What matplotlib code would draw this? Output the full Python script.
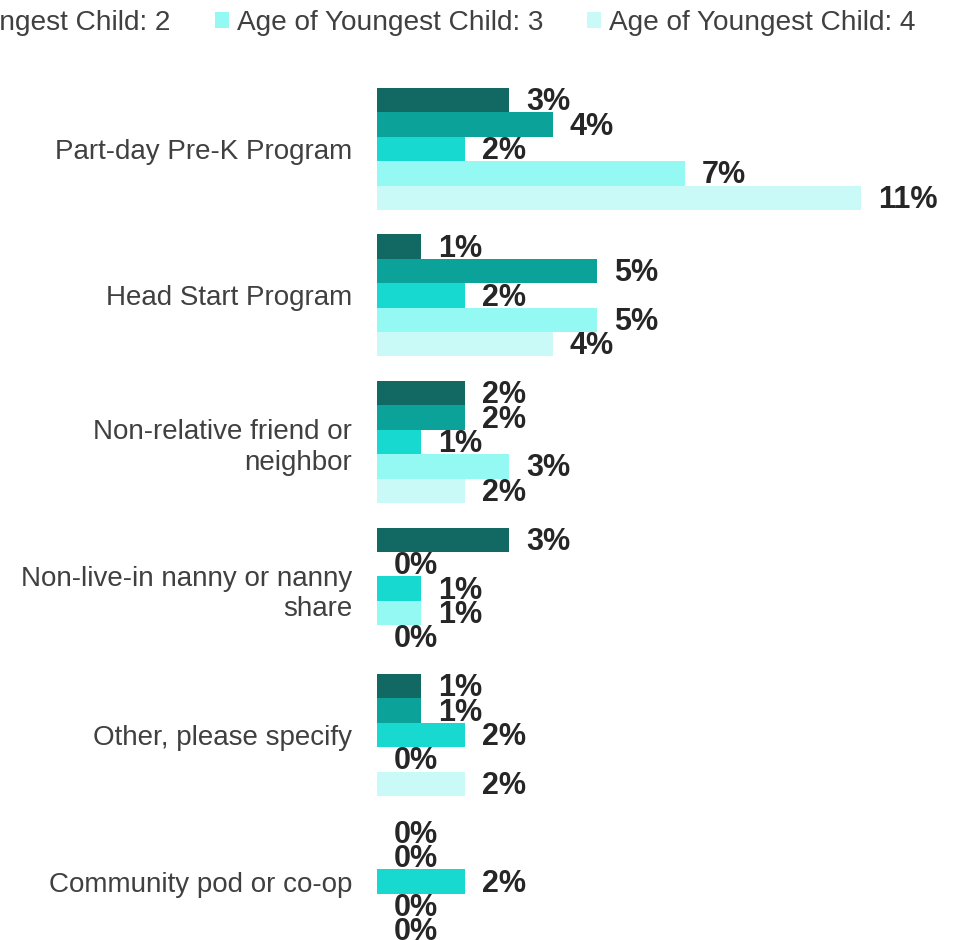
import matplotlib.pyplot as plt
import numpy as np

plt.rcParams['font.family'] = ['Liberation Sans', 'DejaVu Sans']

categories = [
    "Part-day Pre-K Program",
    "Head Start Program",
    "Non-relative friend or\nneighbor",
    "Non-live-in nanny or nanny\nshare",
    "Other, please specify",
    "Community pod or co-op",
]
series_names = [
    "Age of Youngest Child: 0",
    "Age of Youngest Child: 1",
    "Age of Youngest Child: 2",
    "Age of Youngest Child: 3",
    "Age of Youngest Child: 4",
]
# percent values per series for each category
age0 = [3, 1, 2, 3, 1, 0]
age1 = [4, 5, 2, 0, 1, 0]
age2 = [2, 2, 1, 1, 2, 2]
age3 = [7, 5, 3, 1, 0, 0]
age4 = [11, 4, 2, 0, 2, 0]
values = [age0, age1, age2, age3, age4]
colors = ["#126863", "#0BA29A", "#18D9CF", "#94F8F3", "#C9FAF7"]

W, H = 956, 940
fig = plt.figure(figsize=(W / 100, H / 100), dpi=100)
ax = fig.add_axes([377 / W, 0, 1 - 377 / W, 1])

y = np.arange(len(categories))
h = 24.4 / 146.5

handles = []
for k, (name, vals, c) in enumerate(zip(series_names, values, colors)):
    pos = y + (k - 2) * h
    bars = ax.barh(pos, vals, height=h, color=c, label=name)
    handles.append(bars)
    for yy, v in zip(pos, vals):
        ax.annotate(f"{v}%", (v, yy), xytext=(12.2, -1.5), textcoords="offset points",
                    ha="left", va="center", fontsize=22, fontweight="bold",
                    color="#262626", annotation_clip=False)

ax.set_xlim(0, 579 / 44)
ax.set_ylim((940 - 149) / 146.5, (0 - 149) / 146.5)
ax.set_yticks(y)
ax.set_yticklabels(categories, fontsize=20, color="#404040", linespacing=1.25)
ax.tick_params(axis="y", length=0, pad=18)
ax.xaxis.set_visible(False)
for s in ax.spines.values():
    s.set_visible(False)

fig.legend(handles=handles, labels=series_names, loc="center right",
           bbox_to_anchor=(916 / W, 1 - 23 / H), ncol=5, frameon=False,
           fontsize=20.2, handlelength=0.5, handleheight=0.5, handletextpad=0.29,
           columnspacing=1.57, borderpad=0, borderaxespad=0, labelcolor="#404040")

fig.savefig("out.png", dpi=100)
